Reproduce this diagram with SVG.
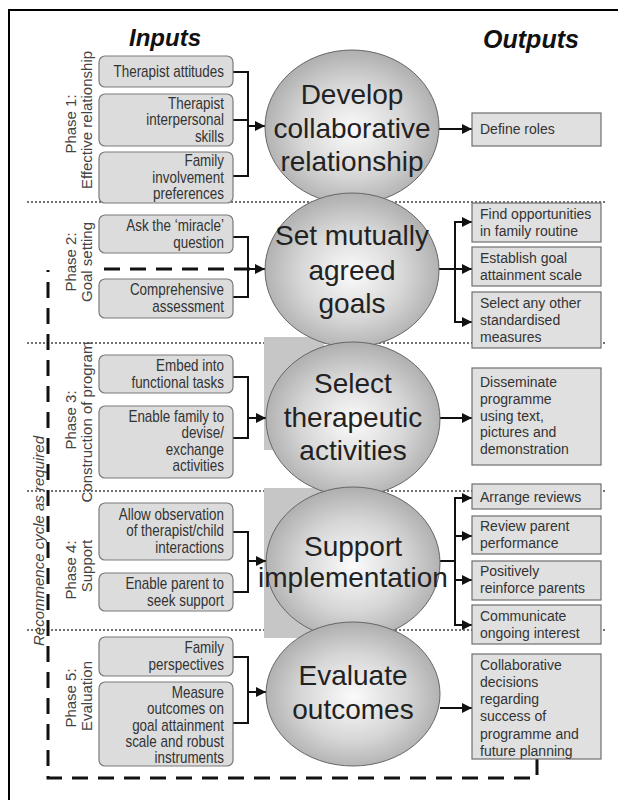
<svg xmlns="http://www.w3.org/2000/svg" width="618" height="800" viewBox="0 0 618 800">
  <defs>
    <radialGradient id="ball" cx="50%" cy="52%" r="55%">
      <stop offset="0" stop-color="#fbfbfb"/>
      <stop offset="0.55" stop-color="#d6d6d6"/>
      <stop offset="1" stop-color="#a9a9a9"/>
    </radialGradient>
    <marker id="arr" markerUnits="userSpaceOnUse" markerWidth="11" markerHeight="11" refX="10" refY="5" orient="auto">
      <path d="M0,0 L10,5 L0,10 z" fill="#111"/>
    </marker>
    <style>
      .hdr { font-family: "Liberation Sans", Arial, sans-serif; font-weight: bold; font-style: italic; fill: #111; }
      .phase { font-family: "Liberation Sans", Arial, sans-serif; font-size: 15px; fill: #444; text-anchor: middle; }
      .inbox { fill: #dcdcdc; stroke: #7a7a7a; stroke-width: 1.2; }
      .intxt { font-family: "Liberation Sans", Arial, sans-serif; font-size: 16px; fill: #333; text-anchor: end; }
      .outbox { fill: #e0e0e0; stroke: #6e6e6e; stroke-width: 1.2; }
      .outtxt { font-family: "Liberation Sans", Arial, sans-serif; font-size: 14px; fill: #333; }
      .ball { fill: url(#ball); stroke: #666; stroke-width: 1; }
      .balltxt { font-family: "Liberation Sans", Arial, sans-serif; font-size: 28px; fill: #222; text-anchor: middle; }
      .sep { stroke: #444; stroke-width: 1.5; stroke-dasharray: 2 2; fill: none; }
      .wire { stroke: #111; stroke-width: 2; fill: none; }
      .loop { stroke: #111; stroke-width: 3; stroke-dasharray: 16 10; fill: none; }
    </style>
  </defs>

  <rect width="618" height="800" fill="#fff"/>

  <!-- frame -->
  <path d="M9,800 V10 H618" stroke="#000" stroke-width="2" fill="none"/>

  <!-- headers -->
  <text class="hdr" x="165" y="46" font-size="24" text-anchor="middle">Inputs</text>
  <text class="hdr" x="531" y="48" font-size="25" text-anchor="middle">Outputs</text>

  <!-- phase separators -->
  <g id="separators">
    <line class="sep" x1="27" y1="202" x2="605" y2="202"/>
    <line class="sep" x1="27" y1="343" x2="605" y2="343"/>
    <line class="sep" x1="27" y1="491" x2="605" y2="491"/>
    <line class="sep" x1="27" y1="630" x2="605" y2="630"/>
  </g>

  <!-- phase labels -->
  <g id="phase-labels">
    <text class="phase" transform="translate(76,124) rotate(-90)">Phase 1:</text>
    <text class="phase" transform="translate(92,120) rotate(-90)">Effective relationship</text>
    <text class="phase" transform="translate(76,262) rotate(-90)">Phase 2:</text>
    <text class="phase" transform="translate(92,262) rotate(-90)">Goal setting</text>
    <text class="phase" transform="translate(76,420) rotate(-90)">Phase 3:</text>
    <text class="phase" transform="translate(92,422) rotate(-90)">Construction of program</text>
    <text class="phase" transform="translate(76,570) rotate(-90)">Phase 4:</text>
    <text class="phase" transform="translate(92,566) rotate(-90)">Support</text>
    <text class="phase" transform="translate(76,698) rotate(-90)">Phase 5:</text>
    <text class="phase" transform="translate(92,696) rotate(-90)">Evaluation</text>
    <text class="phase" font-style="italic" transform="translate(44,541) rotate(-90)">Recommence cycle as required</text>
  </g>

  <!-- shaded patches behind the middle circles -->
  <rect x="264" y="337" width="60" height="113" fill="#c6c6c6"/>
  <rect x="264" y="488" width="60" height="150" fill="#c6c6c6"/>

  <!-- connectors -->
  <g id="connectors">
    <path class="wire" d="M233,72 H248 M233,120 H248 M233,176 H248 M248,71 V177"/>
    <path class="wire" d="M248,126 H265" marker-end="url(#arr)"/>
    <path class="wire" d="M233,237 H248 V297 H233"/>
    <path class="wire" d="M248,269 H265" marker-end="url(#arr)"/>
    <path class="wire" d="M233,377 H248 V438 H233"/>
    <path class="wire" d="M248,418 H266" marker-end="url(#arr)"/>
    <path class="wire" d="M233,532 H248 V592 H233"/>
    <path class="wire" d="M248,561 H266" marker-end="url(#arr)"/>
    <path class="wire" d="M233,657 H248 V723 H233"/>
    <path class="wire" d="M248,692 H266" marker-end="url(#arr)"/>

    <path class="wire" d="M438,129 H472" marker-end="url(#arr)"/>
    <path class="wire" d="M438,269 H455 M455,221 V323"/>
    <path class="wire" d="M455,222 H472" marker-end="url(#arr)"/>
    <path class="wire" d="M455,269 H472" marker-end="url(#arr)"/>
    <path class="wire" d="M455,322 H472" marker-end="url(#arr)"/>
    <path class="wire" d="M440,418 H472" marker-end="url(#arr)"/>
    <path class="wire" d="M440,561 H455 M455,497 V626"/>
    <path class="wire" d="M455,498 H472" marker-end="url(#arr)"/>
    <path class="wire" d="M455,536 H472" marker-end="url(#arr)"/>
    <path class="wire" d="M455,580 H472" marker-end="url(#arr)"/>
    <path class="wire" d="M455,625 H472" marker-end="url(#arr)"/>
    <path class="wire" d="M440,708 H472" marker-end="url(#arr)"/>

    <!-- feedback loop back to goal setting -->
    <path class="loop" d="M537,759 V778 H48 V270"/>
    <path class="loop" d="M104,269 H250"/>
  </g>

  <!-- Phase 1 inputs (labels condensed about their right edge, x=224) -->
  <g id="in-attitudes">
    <rect class="inbox" x="99" y="56" width="134" height="31" rx="6"/>
    <g transform="matrix(0.84,0,0,1,35.84,0)">
      <text class="intxt" x="224" y="77">Therapist attitudes</text>
    </g>
  </g>
  <g id="in-interpersonal">
    <rect class="inbox" x="99" y="94" width="134" height="52" rx="6"/>
    <g transform="matrix(0.84,0,0,1,35.84,0)">
      <text class="intxt" x="224" y="109">Therapist</text>
      <text class="intxt" x="224" y="125">interpersonal</text>
      <text class="intxt" x="224" y="142">skills</text>
    </g>
  </g>
  <g id="in-family-prefs">
    <rect class="inbox" x="99" y="152" width="134" height="51" rx="6"/>
    <g transform="matrix(0.84,0,0,1,35.84,0)">
      <text class="intxt" x="224" y="166">Family</text>
      <text class="intxt" x="224" y="183">involvement</text>
      <text class="intxt" x="224" y="199">preferences</text>
    </g>
  </g>

  <!-- Phase 2 inputs -->
  <g id="in-miracle">
    <rect class="inbox" x="99" y="215" width="134" height="38" rx="6"/>
    <g transform="matrix(0.84,0,0,1,35.84,0)">
      <text class="intxt" x="224" y="231">Ask the ‘miracle’</text>
      <text class="intxt" x="224" y="248">question</text>
    </g>
  </g>
  <g id="in-assessment">
    <rect class="inbox" x="99" y="279" width="134" height="39" rx="6"/>
    <g transform="matrix(0.84,0,0,1,35.84,0)">
      <text class="intxt" x="224" y="295">Comprehensive</text>
      <text class="intxt" x="224" y="312">assessment</text>
    </g>
  </g>

  <!-- Phase 3 inputs -->
  <g id="in-embed">
    <rect class="inbox" x="99" y="355" width="134" height="38" rx="6"/>
    <g transform="matrix(0.84,0,0,1,35.84,0)">
      <text class="intxt" x="224" y="371">Embed into</text>
      <text class="intxt" x="224" y="388">functional tasks</text>
    </g>
  </g>
  <g id="in-devise">
    <rect class="inbox" x="99" y="406" width="134" height="72" rx="6"/>
    <g transform="matrix(0.84,0,0,1,35.84,0)">
      <text class="intxt" x="224" y="422">Enable family to</text>
      <text class="intxt" x="224" y="438">devise/</text>
      <text class="intxt" x="224" y="455">exchange</text>
      <text class="intxt" x="224" y="471">activities</text>
    </g>
  </g>

  <!-- Phase 4 inputs -->
  <g id="in-observation">
    <rect class="inbox" x="99" y="503" width="134" height="57" rx="6"/>
    <g transform="matrix(0.84,0,0,1,35.84,0)">
      <text class="intxt" x="224" y="520">Allow observation</text>
      <text class="intxt" x="224" y="536">of therapist/child</text>
      <text class="intxt" x="224" y="553">interactions</text>
    </g>
  </g>
  <g id="in-seek-support">
    <rect class="inbox" x="99" y="573" width="134" height="38" rx="6"/>
    <g transform="matrix(0.84,0,0,1,35.84,0)">
      <text class="intxt" x="224" y="589">Enable parent to</text>
      <text class="intxt" x="224" y="606">seek support</text>
    </g>
  </g>

  <!-- Phase 5 inputs -->
  <g id="in-perspectives">
    <rect class="inbox" x="99" y="637" width="134" height="39" rx="6"/>
    <g transform="matrix(0.84,0,0,1,35.84,0)">
      <text class="intxt" x="224" y="653">Family</text>
      <text class="intxt" x="224" y="670">perspectives</text>
    </g>
  </g>
  <g id="in-measure">
    <rect class="inbox" x="99" y="682" width="134" height="84" rx="6"/>
    <g transform="matrix(0.84,0,0,1,35.84,0)">
      <text class="intxt" x="224" y="698">Measure</text>
      <text class="intxt" x="224" y="714">outcomes on</text>
      <text class="intxt" x="224" y="731">goal attainment</text>
      <text class="intxt" x="224" y="747">scale and robust</text>
      <text class="intxt" x="224" y="763">instruments</text>
    </g>
  </g>

  <!-- central activities -->
  <g id="develop">
    <ellipse class="ball" cx="352" cy="127" rx="87" ry="77"/>
    <text class="balltxt" x="352" y="104">Develop</text>
    <text class="balltxt" x="352" y="138">collaborative</text>
    <text class="balltxt" x="352" y="171">relationship</text>
  </g>
  <g id="set-goals">
    <ellipse class="ball" cx="352" cy="270" rx="87" ry="77"/>
    <text class="balltxt" x="352" y="245">Set mutually</text>
    <text class="balltxt" x="352" y="280">agreed</text>
    <text class="balltxt" x="352" y="313">goals</text>
  </g>
  <g id="select-activities">
    <ellipse class="ball" cx="353" cy="419" rx="87" ry="77"/>
    <text class="balltxt" x="353" y="393">Select</text>
    <text class="balltxt" x="353" y="427">therapeutic</text>
    <text class="balltxt" x="353" y="460">activities</text>
  </g>
  <g id="support-implementation">
    <ellipse class="ball" cx="353" cy="563" rx="87" ry="76"/>
    <text class="balltxt" x="353" y="556">Support</text>
    <text class="balltxt" x="353" y="587" font-size="25">implementation</text>
  </g>
  <g id="evaluate">
    <ellipse class="ball" cx="353" cy="694" rx="87" ry="72"/>
    <text class="balltxt" x="353" y="685">Evaluate</text>
    <text class="balltxt" x="353" y="719">outcomes</text>
  </g>

  <!-- outputs -->
  <g id="out-roles">
    <rect class="outbox" x="472" y="113" width="129" height="33"/>
    <text class="outtxt" x="480" y="134">Define roles</text>
  </g>
  <g id="out-opportunities">
    <rect class="outbox" x="472" y="203" width="129" height="39"/>
    <text class="outtxt" x="480" y="219">Find opportunities</text>
    <text class="outtxt" x="480" y="236">in family routine</text>
  </g>
  <g id="out-gas">
    <rect class="outbox" x="472" y="247" width="129" height="39"/>
    <text class="outtxt" x="480" y="263">Establish goal</text>
    <text class="outtxt" x="480" y="280">attainment scale</text>
  </g>
  <g id="out-measures">
    <rect class="outbox" x="472" y="292" width="129" height="56"/>
    <text class="outtxt" x="480" y="308">Select any other</text>
    <text class="outtxt" x="480" y="325">standardised</text>
    <text class="outtxt" x="480" y="342">measures</text>
  </g>
  <g id="out-disseminate">
    <rect class="outbox" x="472" y="368" width="129" height="97"/>
    <text class="outtxt" x="480" y="387">Disseminate</text>
    <text class="outtxt" x="480" y="404">programme</text>
    <text class="outtxt" x="480" y="421">using text,</text>
    <text class="outtxt" x="480" y="437">pictures and</text>
    <text class="outtxt" x="480" y="454">demonstration</text>
  </g>
  <g id="out-reviews">
    <rect class="outbox" x="472" y="484" width="129" height="25"/>
    <text class="outtxt" x="480" y="502">Arrange reviews</text>
  </g>
  <g id="out-performance">
    <rect class="outbox" x="472" y="516" width="129" height="38"/>
    <text class="outtxt" x="480" y="531">Review parent</text>
    <text class="outtxt" x="480" y="548">performance</text>
  </g>
  <g id="out-reinforce">
    <rect class="outbox" x="472" y="561" width="129" height="39"/>
    <text class="outtxt" x="480" y="576">Positively</text>
    <text class="outtxt" x="480" y="593">reinforce parents</text>
  </g>
  <g id="out-interest">
    <rect class="outbox" x="472" y="605" width="129" height="39"/>
    <text class="outtxt" x="480" y="621">Communicate</text>
    <text class="outtxt" x="480" y="638">ongoing interest</text>
  </g>
  <g id="out-decisions">
    <rect class="outbox" x="472" y="654" width="129" height="105"/>
    <text class="outtxt" x="480" y="670">Collaborative</text>
    <text class="outtxt" x="480" y="687">decisions</text>
    <text class="outtxt" x="480" y="704">regarding</text>
    <text class="outtxt" x="480" y="721">success of</text>
    <text class="outtxt" x="480" y="739">programme and</text>
    <text class="outtxt" x="480" y="756">future planning</text>
  </g>
</svg>
